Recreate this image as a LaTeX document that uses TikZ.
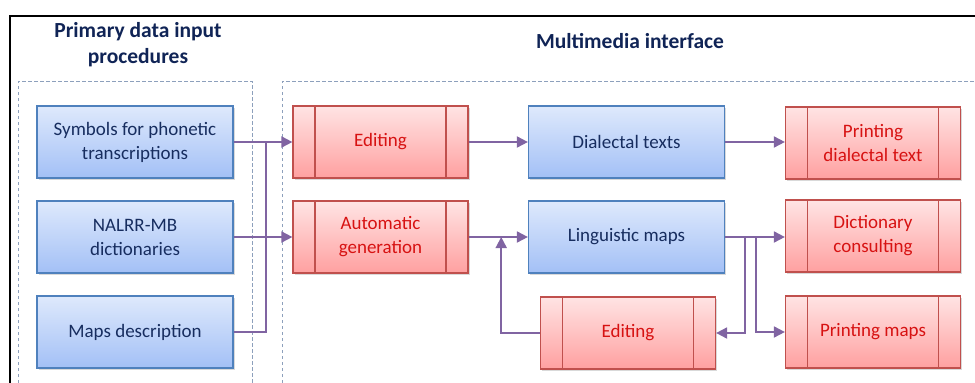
\documentclass[tikz,border=0pt]{standalone}
\usepackage{fontspec}
\setmainfont{Carlito}
\usetikzlibrary{arrows.meta,shadows,calc}

\definecolor{bluetop}{RGB}{222,233,252}
\definecolor{bluebot}{RGB}{163,192,246}
\definecolor{blueline}{RGB}{79,129,189}
\definecolor{bluetext}{RGB}{23,45,95}
\definecolor{redtop}{RGB}{255,228,228}
\definecolor{redbot}{RGB}{255,160,160}
\definecolor{redline}{RGB}{192,80,77}
\definecolor{redtext}{RGB}{215,18,18}
\definecolor{flowcol}{RGB}{128,100,162}
\definecolor{dashcol}{RGB}{141,160,188}
\definecolor{titlecol}{RGB}{16,36,86}

\tikzset{
  datbox/.style={draw=blueline, line width=1.2pt, top color=bluetop, bottom color=bluebot,
    minimum width=196pt, minimum height=72pt, inner sep=0pt, align=center, text=bluetext,
    font=\fontsize{19}{24}\selectfont,
    drop shadow={shadow xshift=1.5pt, shadow yshift=-2pt, opacity=0.3}},
  procbox/.style={draw=redline, line width=1.2pt, top color=redtop, bottom color=redbot,
    minimum width=175pt, minimum height=72pt, inner sep=0pt, align=center, text=redtext,
    font=\fontsize{19}{24}\selectfont,
    drop shadow={shadow xshift=1.5pt, shadow yshift=-2pt, opacity=0.3},
    path picture={
      \draw[redline, line width=1.2pt] ([xshift=22pt]path picture bounding box.north west) -- ([xshift=22pt]path picture bounding box.south west);
      \draw[redline, line width=1.2pt] ([xshift=-22pt]path picture bounding box.north east) -- ([xshift=-22pt]path picture bounding box.south east);}},
  flow/.style={draw=flowcol, line width=1.8pt, -{Triangle[length=11pt,width=11pt]}},
  link/.style={draw=flowcol, line width=1.8pt},
  dashbox/.style={draw=dashcol, line width=1pt, dash pattern=on 3.5pt off 2.5pt},
  heading/.style={font=\fontsize{21.5}{26}\selectfont\bfseries, text=titlecol, align=center}
}

\begin{document}
\begin{tikzpicture}[x=1pt,y=-1pt]
\useasboundingbox (0,0) rectangle (975,383);
\draw[line width=2.2pt] (10,383) -- (10,16) -- (975,16); % outer frame
\draw[dashbox] (18,383) -- (18,81) -- (252,81) -- (252,383);
\draw[dashbox] (282,383) -- (282,81) -- (975,81);

\node[heading] (ttlin) at (138,45) {Primary data input\\procedures};
\node[heading] (ttlmm) at (630,41) {Multimedia interface};

% input procedures
\foreach \y/\n/\t in {142/sym/{Symbols for phonetic\\transcriptions}, 237/nal/{NALRR-MB\\dictionaries}, 332/mapd/{Maps description}}
  \node[datbox] (\n) at (135,\y) {\t};

% interface
\node[procbox] (edita) at (380.5,142) {Editing};
\node[procbox] (autog) at (380.5,237) {Automatic\\generation};
\node[datbox] (dial) at (626.5,142) {Dialectal texts};
\node[datbox] (ling) at (626.5,237) {Linguistic maps};
\node[procbox] (editb) at (628,333) {Editing};
\node[procbox] (prdial) at (873,143) {Printing\\dialectal text};
\node[procbox] (dict) at (873,236) {Dictionary\\consulting};
\node[procbox] (prmap) at (873,332) {Printing maps};

\coordinate (jn) at ($(sym.east)!0.55!(edita.west)$);
\coordinate (up) at ($(autog.east)!0.55!(ling.west)$);

\draw[flow] (sym.east) -- (edita.west);
\draw[flow] (nal.east) -- (autog.west);
\draw[link] (mapd.east) -| (jn);
\draw[flow] (edita.east) -- (dial.west);
\draw[flow] (autog.east) -- (ling.west);
\draw[flow] (editb.west) -| (up);
\draw[flow] (dial.east) -- (dial.east -| prdial.west);
\draw[flow] (ling.east) -- (ling.east -| dict.west);
\draw[flow] ([xshift=20pt]ling.east) |- (editb.east);
\draw[flow] ([xshift=31pt]ling.east) |- (prmap.west);
\end{tikzpicture}
\end{document}
